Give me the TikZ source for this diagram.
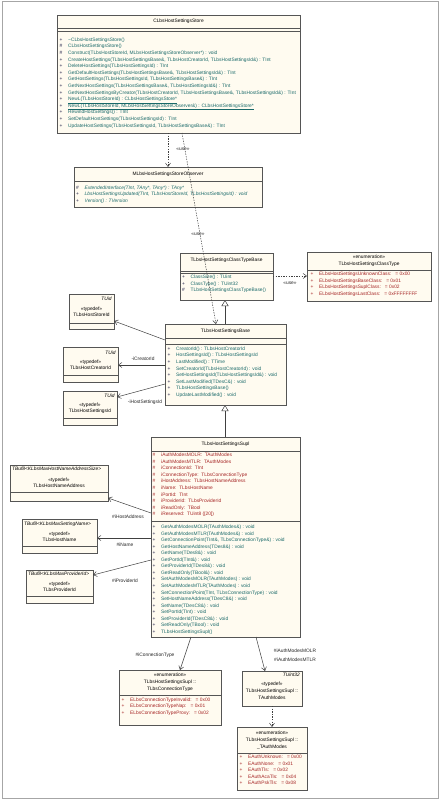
\documentclass[tikz,border=0pt]{standalone}
\usepackage{fontspec}
\setmainfont{Liberation Sans}
\usetikzlibrary{arrows.meta,calc,shadows}
\definecolor{cream}{RGB}{255,251,240}
\definecolor{bord}{RGB}{85,85,85}
\definecolor{opc}{RGB}{25,105,105}
\definecolor{atc}{RGB}{165,35,35}
\definecolor{pfx}{RGB}{30,30,70}
\newcounter{lnc}
\newcommand\startlist[3]{\def\curx{#1}\def\cury{#2}\def\dy{#3}}
\def\pfxc{pfx}
\newcommand\opl[3]{%
  \stepcounter{lnc}%
  \node[txt,anchor=west] (ln\arabic{lnc}) at (\curx,\cury) {\makebox[8.5pt][l]{\textcolor{\pfxc}{#1}}\textcolor{#2}{#3}};%
  \pgfmathsetmacro\cury{\cury+\dy}}
\begin{document}
\begin{tikzpicture}[x=1pt,y=-1pt,
  cls/.style={draw=bord, fill=cream, line width=0.6pt, anchor=north west, inner sep=0pt, outer sep=0pt,
    drop shadow={shadow xshift=1.2pt,shadow yshift=-1.2pt,fill=black!40,opacity=1}},
  txt/.style={inner sep=0pt, font=\fontsize{4.85pt}{5.3pt}\selectfont, text height=3.45pt, text depth=1pt},
  ttl/.style={txt, anchor=center},
  div/.style={draw=bord, line width=0.5pt},
  dep/.style={draw=black!75, line width=0.5pt, dash pattern=on 1.4pt off 1.2pt, -{Straight Barb[length=3.5pt,width=5pt]}},
  asc/.style={draw=black!75, line width=0.5pt, -{Straight Barb[length=3.5pt,width=5pt]}},
  gen/.style={draw=black!75, line width=0.5pt, -{Triangle[open,length=6pt,width=7pt,fill=white]}},
  lbl/.style={txt, anchor=center, text=black!85}
]
\useasboundingbox (0,0) rectangle (440,800);
\fill[white] (0,0) rectangle (440,800);
\draw[black!35, line width=1pt] (2,2) rectangle (438,798);

% ---------- CLbsHostSettingsStore
\node[cls, minimum width=243pt, minimum height=118pt] (store) at (57,15) {};
\node[ttl] (storeT) at (178.5,21.5) {CLbsHostSettingsStore};
\draw[div] ($(store.north west)+(0,13)$) -- ($(store.north east)+(0,13)$);
\draw[div] ($(store.north west)+(0,16)$) -- ($(store.north east)+(0,16)$);
\startlist{59.5}{40}{6.6}
\opl{+}{opc}{\textasciitilde CLbsHostSettingsStore()}
\opl{\#}{opc}{CLbsHostSettingsStore()}
\opl{\#}{opc}{Construct(TLbsHostStoreId, MLbsHostSettingsStoreObserver*) : void}
\opl{+}{opc}{CreateHostSettings(TLbsHostSettingsBase\&, TLbsHostCreatorId, TLbsHostSettingsId\&) : TInt}
\opl{+}{opc}{DeleteHostSettings(TLbsHostSettingsId) : TInt}
\opl{+}{opc}{GetDefaultHostSettings(TLbsHostSettingsBase\&, TLbsHostSettingsId\&) : TInt}
\opl{+}{opc}{GetHostSettings(TLbsHostSettingsId, TLbsHostSettingsBase\&) : TInt}
\opl{+}{opc}{GetNextHostSettings(TLbsHostSettingsBase\&, TLbsHostSettingsId\&) : TInt}
\opl{+}{opc}{GetNextHostSettingsByCreator(TLbsHostCreatorId, TLbsHostSettingsBase\&, TLbsHostSettingsId\&) : TInt}
\opl{+}{opc}{\underline{NewL(TLbsHostStoreId) : CLbsHostSettingsStore*}}
\opl{+}{opc}{\underline{NewL(TLbsHostStoreId, MLbsHostSettingsStoreObserver\&) : CLbsHostSettingsStore*}}
\opl{+}{opc}{RewindHostSettings() : TInt}
\opl{+}{opc}{SetDefaultHostSettings(TLbsHostSettingsId) : TInt}
\opl{+}{opc}{UpdateHostSettings(TLbsHostSettingsId, TLbsHostSettingsBase\&) : TInt}

% ---------- MLbsHostSettingsStoreObserver
\node[cls, minimum width=188pt, minimum height=40pt] (obs) at (74,167) {};
\node[ttl] (obsT) at (168,174) {MLbsHostSettingsStoreObserver};
\draw[div] ($(obs.north west)+(0,14)$) -- ($(obs.north east)+(0,14)$);
\startlist{76}{188}{6.5}
\opl{\#}{opc}{\textit{ExtendedInterface(TInt, TAny*, TAny*) : TAny*}}
\opl{+}{opc}{\textit{LbsHostSettingsUpdated(TInt, TLbsHostStoreId, TLbsHostSettingsId) : void}}
\opl{+}{opc}{\textit{Version() : TVersion}}

% ---------- TLbsHostSettingsClassTypeBase
\node[cls, minimum width=93pt, minimum height=47pt] (ctb) at (180,253) {};
\node[ttl] (ctbT) at (226.5,260) {TLbsHostSettingsClassTypeBase};
\draw[div] ($(ctb.north west)+(0,18.5)$) -- ($(ctb.north east)+(0,18.5)$);
\draw[div] ($(ctb.north west)+(0,20.5)$) -- ($(ctb.north east)+(0,20.5)$);
\startlist{182}{277.7}{6.5}
\opl{+}{opc}{ClassSize() : TUint}
\opl{+}{opc}{ClassType() : TUint32}
\opl{\#}{opc}{TLbsHostSettingsClassTypeBase()}

% ---------- TLbsHostSettingsClassType (enum)
\node[cls, minimum width=124pt, minimum height=49pt] (cte) at (307,252) {};
\node[ttl] (cteS) at (369,257.3) {«enumeration»};
\node[ttl] (cteT) at (369,264) {TLbsHostSettingsClassType};
\draw[div] ($(cte.north west)+(0,18)$) -- ($(cte.north east)+(0,18)$);
\def\pfxc{atc}
\startlist{310.5}{274.3}{6.67}
\opl{+}{atc}{ELbsHostSettingsUnknownClass:\ \ \ = 0x00}
\opl{+}{atc}{ELbsHostSettingsBaseClass:\ \ \ = 0x01}
\opl{+}{atc}{ELbsHostSettingsSuplClass:\ \ \ = 0x02}
\opl{+}{atc}{ELbsHostSettingsLastClass:\ \ \ = 0xFFFFFFFF}
\def\pfxc{pfx}

% ---------- TLbsHostSettingsBase
\node[cls, minimum width=121pt, minimum height=81pt] (base) at (165,324) {};
\node[ttl] (baseT) at (225.5,331.5) {TLbsHostSettingsBase};
\draw[div] ($(base.north west)+(0,14)$) -- ($(base.north east)+(0,14)$);
\draw[div] ($(base.north west)+(0,20)$) -- ($(base.north east)+(0,20)$);
\startlist{167.5}{349}{6.6}
\opl{+}{opc}{CreatorId() : TLbsHostCreatorId}
\opl{+}{opc}{HostSettingsId() : TLbsHostSettingsId}
\opl{+}{opc}{LastModified() : TTime}
\opl{+}{opc}{SetCreatorId(TLbsHostCreatorId) : void}
\opl{+}{opc}{SetHostSettingsId(TLbsHostSettingsId\&) : void}
\opl{+}{opc}{SetLastModified(TDesC\&) : void}
\opl{+}{opc}{TLbsHostSettingsBase()}
\opl{+}{opc}{UpdateLastModified() : void}

% ---------- typedefs near base
\node[cls, minimum width=45pt, minimum height=35pt] (sid) at (69,294) {};
\node[txt, anchor=east] (sidU) at (112,299.5) {\textit{TUid}};
\node[ttl] (sidS) at (91.5,309) {«typedef»};
\node[ttl] (sidT) at (91.5,315.5) {TLbsHostStoreId};
\draw[div] ($(sid.north west)+(0,29)$) -- ($(sid.north east)+(0,29)$);

\node[cls, minimum width=55pt, minimum height=35pt] (cid) at (63,347) {};
\node[txt, anchor=east] (cidU) at (116,353) {\textit{TUid}};
\node[ttl] (cidS) at (90.5,362) {«typedef»};
\node[ttl] (cidT) at (90.5,368.5) {TLbsHostCreatorId};
\draw[div] ($(cid.north west)+(0,28)$) -- ($(cid.north east)+(0,28)$);

\node[cls, minimum width=54pt, minimum height=34pt] (hid) at (63,391) {};
\node[txt, anchor=east] (hidU) at (115,396.5) {\textit{TUid}};
\node[ttl] (hidS) at (90,405) {«typedef»};
\node[ttl] (hidT) at (90,411.5) {TLbsHostSettingsId};
\draw[div] ($(hid.north west)+(0,27)$) -- ($(hid.north east)+(0,27)$);

% ---------- TLbsHostSettingsSupl
\node[cls, minimum width=149pt, minimum height=200pt] (supl) at (151,437) {};
\node[ttl] (suplT) at (225.5,444.5) {TLbsHostSettingsSupl};
\draw[div] ($(supl.north west)+(0,14)$) -- ($(supl.north east)+(0,14)$);
\def\pfxc{atc}
\startlist{152.5}{455.3}{6.6}
\opl{\#}{atc}{iAuthModesMOLR:\ \ TAuthModes}
\opl{\#}{atc}{iAuthModesMTLR:\ \ TAuthModes}
\opl{\#}{atc}{iConnectionId:\ \ TInt}
\opl{\#}{atc}{iConnectionType:\ \ TLbsConnectionType}
\opl{\#}{atc}{iHostAddress:\ \ TLbsHostNameAddress}
\opl{\#}{atc}{iName:\ \ TLbsHostName}
\opl{\#}{atc}{iPortId:\ \ TInt}
\opl{\#}{atc}{iProviderId:\ \ TLbsProviderId}
\opl{\#}{atc}{iReadOnly:\ \ TBool}
\opl{\#}{atc}{iReserved:\ \ TUint8 ([20])}
\def\pfxc{pfx}
\draw[div] ($(supl.north west)+(0,84)$) -- ($(supl.north east)+(0,84)$);
\startlist{152.5}{527.3}{6.55}
\opl{+}{opc}{GetAuthModesMOLR(TAuthModes\&) : void}
\opl{+}{opc}{GetAuthModesMTLR(TAuthModes\&) : void}
\opl{+}{opc}{GetConnectionPoint(TInt\&, TLbsConnectionType\&) : void}
\opl{+}{opc}{GetHostNameAddress(TDes8\&) : void}
\opl{+}{opc}{GetName(TDes8\&) : void}
\opl{+}{opc}{GetPortId(TInt\&) : void}
\opl{+}{opc}{GetProviderId(TDes8\&) : void}
\opl{+}{opc}{GetReadOnly(TBool\&) : void}
\opl{+}{opc}{SetAuthModesMOLR(TAuthModes) : void}
\opl{+}{opc}{SetAuthModesMTLR(TAuthModes) : void}
\opl{+}{opc}{SetConnectionPoint(TInt, TLbsConnectionType) : void}
\opl{+}{opc}{SetHostNameAddress(TDesC8\&) : void}
\opl{+}{opc}{SetName(TDesC8\&) : void}
\opl{+}{opc}{SetPortId(TInt) : void}
\opl{+}{opc}{SetProviderId(TDesC8\&) : void}
\opl{+}{opc}{SetReadOnly(TBool) : void}
\opl{+}{opc}{TLbsHostSettingsSupl()}

% ---------- typedefs near supl
\node[cls, minimum width=98pt, minimum height=36pt] (hna) at (10,465) {};
\node[txt, anchor=west] (hnaU) at (12,469.5) {\textit{TBuf8<KLbsMaxHostNameAddressSize>}};
\node[ttl] (hnaS) at (59,480) {«typedef»};
\node[ttl] (hnaT) at (59,486.5) {TLbsHostNameAddress};
\draw[div] ($(hna.north west)+(0,27)$) -- ($(hna.north east)+(0,27)$);

\node[cls, minimum width=75pt, minimum height=34pt] (hn) at (22,519) {};
\node[txt, anchor=west] (hnU) at (24,524) {\textit{TBuf8<KLbsMaxSettingName>}};
\node[ttl] (hnS) at (59.5,534) {«typedef»};
\node[ttl] (hnT) at (59.5,540.5) {TLbsHostName};
\draw[div] ($(hn.north west)+(0,27)$) -- ($(hn.north east)+(0,27)$);

\node[cls, minimum width=67pt, minimum height=33pt] (pid) at (26,570) {};
\node[txt, anchor=west] (pidU) at (28,574.5) {\textit{TBuf8<KLbsMaxProviderId>}};
\node[ttl] (pidS) at (59.5,584) {«typedef»};
\node[ttl] (pidT) at (59.5,590.5) {TLbsProviderId};
\draw[div] ($(pid.north west)+(0,26)$) -- ($(pid.north east)+(0,26)$);

% ---------- bottom
\node[cls, minimum width=102pt, minimum height=55pt] (ctp) at (119,670) {};
\node[ttl] (ctpS) at (170,675) {«enumeration»};
\node[ttl] (ctpT1) at (170,682) {TLbsHostSettingsSupl ::};
\node[ttl] (ctpT2) at (170,689) {TLbsConnectionType};
\draw[div] ($(ctp.north west)+(0,25)$) -- ($(ctp.north east)+(0,25)$);
\def\pfxc{atc}
\startlist{121.5}{700}{6.6}
\opl{+}{atc}{ELbsConnectionTypeInvalid:\ \ \ = 0x00}
\opl{+}{atc}{ELbsConnectionTypeNap:\ \ \ = 0x01}
\opl{+}{atc}{ELbsConnectionTypeProxy:\ \ \ = 0x02}
\def\pfxc{pfx}

\node[cls, minimum width=60pt, minimum height=35pt] (am) at (242,671) {};
\node[txt, anchor=east] (amU) at (300,675) {\textit{TUint32}};
\node[ttl] (amS) at (272,684) {«typedef»};
\node[ttl] (amT1) at (272,691) {TLbsHostSettingsSupl ::};
\node[ttl] (amT2) at (272,698) {TAuthModes};

\node[cls, minimum width=70pt, minimum height=63pt] (tam) at (237,727) {};
\node[ttl] (tamS) at (272,733) {«enumeration»};
\node[ttl] (tamT1) at (272,740) {TLbsHostSettingsSupl ::};
\node[ttl] (tamT2) at (272,747) {\_TAuthModes};
\draw[div] ($(tam.north west)+(0,26)$) -- ($(tam.north east)+(0,26)$);
\def\pfxc{atc}
\startlist{239.5}{757.3}{6.55}
\opl{+}{atc}{EAuthUnknown:\ \ \ = 0x00}
\opl{+}{atc}{EAuthNone:\ \ \ = 0x01}
\opl{+}{atc}{EAuthTls:\ \ \ = 0x02}
\opl{+}{atc}{EAuthAcaTls:\ \ \ = 0x04}
\opl{+}{atc}{EAuthPskTls:\ \ \ = 0x08}
\def\pfxc{pfx}

% ---------- connectors
\draw[dep] ($(store.south west)+(111,0)$) -- ($(obs.north west)+(94,0)$);
\node[lbl] (u1) at (183,149) {«use»};
\draw[dep] ($(store.south west)+(125,0)$) -- ($(base.north west)+(51,0)$);
\node[lbl] (u2) at (198,234) {«use»};
\draw[dep] ($(ctb.north east)+(0,23)$) -- ($(cte.north west)+(0,24)$);
\node[lbl] (u3) at (290,283) {«use»};
\draw[gen] ($(base.north west)+(60,0)$) -- ($(ctb.south west)+(45,0)$);
\draw[gen] ($(supl.north west)+(74,0)$) -- ($(base.south west)+(60,0)$);

\draw[asc] ($(base.north west)+(0,16)$) -- ($(sid.north east)+(0,27)$);
\draw[asc] ($(base.north west)+(0,41)$) -- ($(cid.north east)+(0,18)$);
\node[lbl] (l1) at (143,359) {-iCreatorId};
\draw[asc] ($(base.north west)+(0,60)$) -- ($(hid.north east)+(0,6)$);
\node[lbl] (l2) at (145,402) {-iHostSettingsId};

\draw[asc] ($(supl.north west)+(0,76)$) -- ($(hna.north east)+(0,33)$);
\node[lbl] (l3) at (128,517) {\#iHostAddress};
\draw[asc] ($(supl.north west)+(0,101)$) -- ($(hn.north east)+(0,19)$);
\node[lbl] (l4) at (125,545) {\#iName};
\draw[asc] ($(supl.north west)+(0,123)$) -- ($(pid.north east)+(0,5)$);
\node[lbl] (l5) at (125,581) {\#iProviderId};

\draw[asc] ($(supl.south west)+(40,0)$) -- ($(ctp.north west)+(61,0)$);
\node[lbl] (l6) at (155,655) {\#iConnectionType};
\draw[asc] ($(supl.south west)+(105,0)$) -- ($(am.north west)+(23,0)$);
\node[lbl] (l7) at (295,651) {\#iAuthModesMOLR};
\node[lbl] (l8) at (295,660) {\#iAuthModesMTLR};
\draw[dep] ($(am.south west)+(30,0)$) -- ($(tam.north west)+(35,0)$);
\end{tikzpicture}
\end{document}
